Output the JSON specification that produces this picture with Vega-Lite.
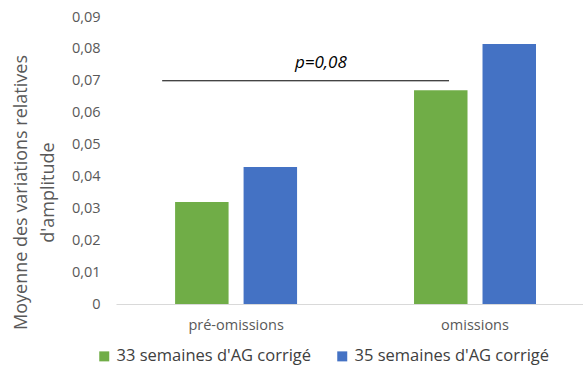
{
  "$schema": "https://vega.github.io/schema/vega-lite/v6.json",
  "width": 467,
  "height": 287,
  "autosize": {"type": "none"},
  "padding": {"left": 116, "top": 17, "right": 0, "bottom": 68},
  "config": {"view": {"stroke": null}, "font": "Open Sans"},
  "layer": [
    {
      "data": {
        "values": [
          {"phase": "pré-omissions", "groupe": "33 semaines d'AG corrigé", "valeur": 0.032},
          {"phase": "pré-omissions", "groupe": "35 semaines d'AG corrigé", "valeur": 0.043},
          {"phase": "omissions", "groupe": "33 semaines d'AG corrigé", "valeur": 0.067},
          {"phase": "omissions", "groupe": "35 semaines d'AG corrigé", "valeur": 0.0815}
        ]
      },
      "mark": {"type": "bar"},
      "encoding": {
        "x": {
          "field": "phase",
          "type": "nominal",
          "scale": {"domain": ["pré-omissions", "omissions"], "paddingInner": 0.4895, "paddingOuter": 0.222, "align": 0.557},
          "axis": {
            "title": null,
            "labelAngle": 0,
            "ticks": false,
            "domainColor": "#d9d9d9",
            "domainWidth": 1,
            "labelColor": "#595959",
            "labelFontSize": 14.5,
            "labelPadding": 14
          }
        },
        "xOffset": {
          "field": "groupe",
          "type": "nominal",
          "scale": {"paddingInner": 0.219, "paddingOuter": 0}
        },
        "y": {
          "field": "valeur",
          "type": "quantitative",
          "scale": {"domain": [0, 0.09], "nice": false},
          "axis": {
            "values": [0, 0.01, 0.02, 0.03, 0.04, 0.05, 0.06, 0.07, 0.08, 0.09],
            "tickCount": 10,
            "labelOverlap": false,
            "labelExpr": "datum.value == 0 ? '0' : replace(format(datum.value, '.2f'), '.', ',')",
            "grid": false,
            "domain": false,
            "ticks": false,
            "labelColor": "#595959",
            "labelFontSize": 14.5,
            "labelPadding": 16,
            "title": ["Moyenne des variations relatives", "d'amplitude"],
            "titleColor": "#595959",
            "titleFontSize": 18,
            "titleFontWeight": "normal",
            "titleLineHeight": 27,
            "titleY": 175,
            "titleX": -86
          }
        },
        "color": {
          "field": "groupe",
          "type": "nominal",
          "scale": {"range": ["#70AD47", "#4472C4"]},
          "legend": {
            "title": null,
            "orient": "none",
            "direction": "horizontal",
            "legendX": -20,
            "legendY": 331,
            "symbolType": "square",
            "symbolSize": 100,
            "symbolStrokeWidth": 0,
            "labelFontSize": 16.5,
            "labelColor": "#404040",
            "labelLimit": 400,
            "columnPadding": 22,
            "labelOffset": 4
          }
        }
      }
    },
    {
      "data": {"values": [{"debut": "pré-omissions", "fin": "omissions", "niveau": 0.07, "label": "p=0,08"}]},
      "mark": {"type": "rule", "color": "#000000", "strokeWidth": 1},
      "encoding": {
        "x": {"field": "debut", "type": "nominal", "bandPosition": -0.106},
        "x2": {"field": "fin", "bandPosition": 0.287},
        "y": {"field": "niveau", "type": "quantitative"}
      }
    },
    {
      "data": {"values": [{"debut": "pré-omissions", "fin": "omissions", "niveau": 0.07, "label": "p=0,08"}]},
      "mark": {"type": "text", "fontStyle": "italic", "fontSize": 17, "color": "#000000", "dy": -18, "align": "center"},
      "encoding": {
        "x": {"field": "debut", "type": "nominal", "bandPosition": 1.195},
        "y": {"field": "niveau", "type": "quantitative"},
        "text": {"field": "label"}
      }
    }
  ]
}
